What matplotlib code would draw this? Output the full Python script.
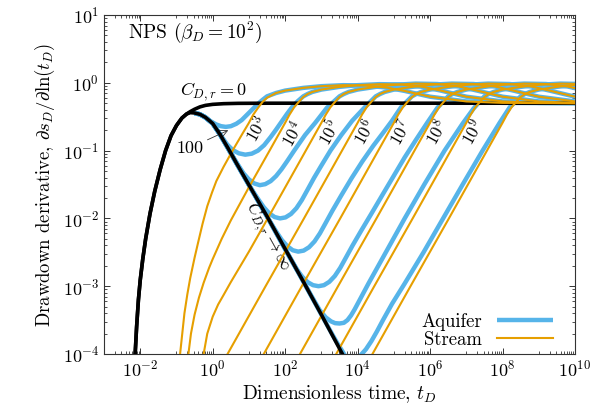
import matplotlib
matplotlib.use("Agg")
import matplotlib.pyplot as plt
import matplotlib.ticker as mticker
import numpy as np

plt.rcParams["font.family"] = "cmr10"
plt.rcParams["mathtext.fontset"] = "cm"
plt.rcParams["axes.formatter.use_mathtext"] = True

AQUIFER_COLOR = "#56b4e9"
STREAM_COLOR = "#e69f00"

# every curve is a list of (log10 t_D, log10 derivative) pairs

# C_D,r = 0
no_storage = [(-2.14, -4.0), (-2.10, -3.6), (-2.05, -3.2), (-2.0, -2.91), (-1.93, -2.6),
              (-1.85, -2.3), (-1.73, -1.93), (-1.6, -1.6), (-1.45, -1.28), (-1.3, -1.0),
              (-1.15, -0.78), (-1.0, -0.63), (-0.85, -0.52), (-0.72, -0.46), (-0.62, -0.425),
              (-0.5, -0.39), (-0.35, -0.355), (-0.2, -0.333), (0.0, -0.318), (0.3, -0.308),
              (0.7, -0.303), (1.5, -0.301), (10.0, -0.301)]

# C_D,r -> infinity
infinite_storage = [(-2.14, -4.0), (-2.10, -3.6), (-2.05, -3.2), (-2.0, -2.91), (-1.93, -2.6),
                    (-1.85, -2.3), (-1.73, -1.93), (-1.6, -1.6), (-1.45, -1.28), (-1.3, -1.0),
                    (-1.15, -0.78), (-1.0, -0.63), (-0.85, -0.52), (-0.72, -0.46), (-0.62, -0.44),
                    (-0.5, -0.445), (-0.35, -0.465), (-0.2, -0.51), (0.0, -0.6), (0.2, -0.76),
                    (0.43, -0.97), (0.65, -1.18), (0.94, -1.45), (1.5, -1.97), (2.0, -2.45),
                    (2.5, -2.93), (3.0, -3.42), (3.5, -3.92), (3.6, -4.02)]

storage_labels = ["100", "$10^3$", "$10^4$", "$10^5$", "$10^6$", "$10^7$", "$10^8$", "$10^9$"]

stream_2 = [(-0.90, -4.0), (-0.84, -3.7), (-0.78, -3.4), (-0.7, -3.12), (-0.62, -2.88),
            (-0.5, -2.58), (-0.4, -2.35), (-0.28, -2.08), (-0.15, -1.82), (-0.02, -1.62),
            (0.1, -1.45), (0.3, -1.24), (0.57, -0.98), (0.8, -0.77), (1.0, -0.59),
            (1.12, -0.47), (1.25, -0.37), (1.38, -0.28), (1.5, -0.22), (1.75, -0.15),
            (2.0, -0.115), (2.5, -0.075), (3.0, -0.05), (3.6, -0.035), (4.2, -0.04),
            (4.8, -0.07), (5.3, -0.12), (6.0, -0.205), (7.0, -0.275), (8.0, -0.296),
            (10.0, -0.301)]
stream_3 = [(-0.67, -4.0), (-0.6, -3.7), (-0.5, -3.42), (-0.38, -3.17), (-0.25, -2.95),
            (-0.1, -2.73), (0.0, -2.6), (0.25, -2.3), (0.5, -2.03), (1.0, -1.54),
            (1.57, -1.0), (2.0, -0.59), (2.12, -0.47), (2.25, -0.36), (2.38, -0.28),
            (2.5, -0.21), (2.62, -0.165), (2.75, -0.135), (3.0, -0.1), (3.5, -0.06),
            (4.0, -0.035), (4.6, -0.02), (5.2, -0.025), (5.8, -0.06), (6.3, -0.115),
            (7.0, -0.205), (8.0, -0.275), (9.0, -0.296), (10.0, -0.30)]
stream_4 = [(-0.25, -4.0), (-0.15, -3.7), (0.0, -3.45), (0.15, -3.27), (0.3, -3.13),
            (0.5, -2.94), (0.7, -2.76), (1.0, -2.49), (1.52, -2.0), (2.57, -1.0),
            (3.0, -0.59), (3.12, -0.47), (3.25, -0.36), (3.38, -0.28), (3.5, -0.21),
            (3.62, -0.165), (3.75, -0.135), (4.0, -0.1), (4.5, -0.06), (5.0, -0.03),
            (5.6, -0.012), (6.2, -0.018), (6.8, -0.055), (7.3, -0.115), (8.0, -0.205),
            (9.0, -0.275), (10.0, -0.296)]
stream_5 = [(0.41, -4.0), (1.46, -3.0), (2.52, -2.0), (3.57, -1.0), (4.0, -0.59),
            (4.12, -0.47), (4.25, -0.36), (4.38, -0.28), (4.5, -0.21), (4.62, -0.165),
            (4.75, -0.135), (5.0, -0.1), (5.5, -0.06), (6.0, -0.03), (6.6, -0.012),
            (7.2, -0.018), (7.8, -0.055), (8.3, -0.115), (9.0, -0.205), (10.0, -0.275)]
stream_6 = [(1.41, -4.0), (2.46, -3.0), (3.52, -2.0), (4.57, -1.0), (5.0, -0.59),
            (5.12, -0.47), (5.25, -0.36), (5.38, -0.28), (5.5, -0.21), (5.62, -0.165),
            (5.75, -0.135), (6.0, -0.1), (6.5, -0.06), (7.0, -0.03), (7.6, -0.012),
            (8.2, -0.018), (8.8, -0.055), (9.3, -0.115), (10.0, -0.205)]
stream_7 = [(2.41, -4.0), (3.46, -3.0), (4.52, -2.0), (5.57, -1.0), (6.0, -0.59),
            (6.12, -0.47), (6.25, -0.36), (6.38, -0.28), (6.5, -0.21), (6.62, -0.165),
            (6.75, -0.135), (7.0, -0.1), (7.5, -0.06), (8.0, -0.03), (8.6, -0.012),
            (9.2, -0.018), (9.8, -0.055), (10.3, -0.115)]
stream_8 = [(3.41, -4.0), (4.46, -3.0), (5.52, -2.0), (6.57, -1.0), (7.0, -0.59),
            (7.12, -0.47), (7.25, -0.36), (7.38, -0.28), (7.5, -0.21), (7.62, -0.165),
            (7.75, -0.135), (8.0, -0.1), (8.5, -0.06), (9.0, -0.03), (9.6, -0.012),
            (10.2, -0.018)]
stream_9 = [(4.41, -4.0), (5.46, -3.0), (6.52, -2.0), (7.57, -1.0), (8.0, -0.59),
            (8.12, -0.47), (8.25, -0.36), (8.38, -0.28), (8.5, -0.21), (8.62, -0.165),
            (8.75, -0.135), (9.0, -0.1), (9.5, -0.06), (10.0, -0.03)]

# aquifer curves up to where they join the stream curve of the same C_D,r
aquifer_2 = [(-0.5, -0.445), (-0.35, -0.47), (-0.2, -0.515), (-0.05, -0.57), (0.1, -0.615),
             (0.23, -0.64), (0.36, -0.65), (0.5, -0.64), (0.65, -0.605), (0.8, -0.55),
             (0.95, -0.47), (1.1, -0.39), (1.25, -0.31), (1.38, -0.25), (1.5, -0.2)]
aquifer_3 = [(-0.5, -0.445), (-0.35, -0.465), (-0.2, -0.51), (0.0, -0.6), (0.2, -0.76),
             (0.4, -0.91), (0.55, -0.99), (0.72, -1.04), (0.9, -1.06), (1.08, -1.045),
             (1.25, -1.0), (1.42, -0.92), (1.6, -0.8), (1.75, -0.69), (1.88, -0.59),
             (2.05, -0.46), (2.19, -0.36), (2.35, -0.27), (2.5, -0.2)]
aquifer_4 = [(-0.5, -0.445), (-0.35, -0.465), (-0.2, -0.51), (0.0, -0.6), (0.2, -0.76),
             (0.5, -1.04), (0.7, -1.21), (0.85, -1.335), (1.0, -1.425), (1.15, -1.485),
             (1.3, -1.51), (1.45, -1.495), (1.6, -1.45), (1.75, -1.375), (1.9, -1.275),
             (2.05, -1.16), (2.25, -1.0), (2.55, -0.77), (2.83, -0.59), (3.15, -0.37),
             (3.5, -0.2)]
aquifer_5 = [(-0.5, -0.445), (-0.35, -0.465), (-0.2, -0.51), (0.0, -0.6), (0.2, -0.76),
             (0.43, -0.97), (0.65, -1.18), (0.86, -1.37), (1.06, -1.56), (1.26, -1.72),
             (1.41, -1.835), (1.56, -1.925), (1.71, -1.98), (1.86, -2.0), (2.01, -1.985),
             (2.16, -1.935), (2.31, -1.85), (2.46, -1.73), (2.61, -1.585), (2.8, -1.4),
             (3.0, -1.22), (3.25, -1.0), (3.55, -0.77), (3.85, -0.56), (4.2, -0.36),
             (4.5, -0.2)]
aquifer_6 = [(-0.5, -0.445), (-0.35, -0.465), (-0.2, -0.51), (0.0, -0.6), (0.2, -0.76),
             (0.43, -0.97), (0.65, -1.18), (0.94, -1.45), (1.25, -1.74), (1.56, -2.03),
             (1.76, -2.2), (1.91, -2.32), (2.06, -2.41), (2.21, -2.47), (2.36, -2.49),
             (2.51, -2.475), (2.66, -2.425), (2.81, -2.34), (2.96, -2.22), (3.11, -2.075),
             (3.3, -1.89), (3.55, -1.66), (3.83, -1.41), (4.13, -1.16), (4.43, -0.93),
             (4.7, -0.74), (4.95, -0.56), (5.2, -0.36), (5.5, -0.2)]
aquifer_7 = [(-0.5, -0.445), (-0.35, -0.465), (-0.2, -0.51), (0.0, -0.6), (0.2, -0.76),
             (0.43, -0.97), (0.65, -1.18), (0.94, -1.45), (1.5, -1.97), (1.85, -2.31),
             (2.12, -2.57), (2.32, -2.75), (2.47, -2.86), (2.62, -2.94), (2.77, -2.985),
             (2.92, -3.0), (3.07, -2.985), (3.22, -2.935), (3.37, -2.85), (3.52, -2.73),
             (3.67, -2.585), (3.86, -2.4), (4.1, -2.18), (4.38, -1.93), (4.7, -1.64),
             (5.0, -1.37), (5.3, -1.1), (5.6, -0.85), (5.92, -0.59), (6.2, -0.37),
             (6.5, -0.2)]
aquifer_8 = [(-0.5, -0.445), (-0.35, -0.465), (-0.2, -0.51), (0.0, -0.6), (0.2, -0.76),
             (0.43, -0.97), (0.65, -1.18), (0.94, -1.45), (1.5, -1.97), (2.0, -2.45),
             (2.4, -2.83), (2.7, -3.12), (2.95, -3.35), (3.12, -3.46), (3.27, -3.52),
             (3.38, -3.545), (3.5, -3.55), (3.62, -3.54), (3.72, -3.5), (3.82, -3.43),
             (3.92, -3.34), (4.02, -3.24), (4.14, -3.12), (4.3, -2.96), (4.8, -2.48),
             (5.3, -2.0), (5.84, -1.5), (6.4, -1.0), (6.9, -0.6), (7.2, -0.38), (7.5, -0.2)]
aquifer_9 = [(-0.5, -0.445), (-0.35, -0.465), (-0.2, -0.51), (0.0, -0.6), (0.2, -0.76),
             (0.43, -0.97), (0.65, -1.18), (0.94, -1.45), (1.5, -1.97), (2.0, -2.45),
             (2.5, -2.93), (3.0, -3.42), (3.3, -3.71), (3.45, -3.85), (3.58, -3.96),
             (3.68, -4.05), (3.78, -4.1), (3.93, -4.08), (4.08, -4.02), (4.23, -3.93),
             (4.38, -3.81), (4.53, -3.67), (4.7, -3.5), (4.95, -3.26), (5.3, -2.96),
             (5.82, -2.5), (6.36, -2.0), (6.9, -1.5), (7.45, -1.0), (7.92, -0.59),
             (8.2, -0.36), (8.5, -0.2)]

streams = [stream_2, stream_3, stream_4, stream_5, stream_6, stream_7, stream_8, stream_9]
aquifers = [aquifer_2, aquifer_3, aquifer_4, aquifer_5, aquifer_6, aquifer_7, aquifer_8, aquifer_9]

# where the rotated C_D,r labels sit (log10 t_D, log10 derivative)
label_t = [1.22, 2.2, 3.22, 4.2, 5.18, 6.18, 7.18]
label_y = [-0.68, -0.75, -0.73, -0.73, -0.73, -0.73, -0.73]


def to_xy(points):
    arr = np.array(points)
    return 10.0 ** arr[:, 0], 10.0 ** arr[:, 1]


fig = plt.figure(figsize=(5.91, 4.19), dpi=100)
ax = fig.add_axes([104 / 591, 1 - 354 / 419, 471 / 591, 339 / 419])
ax.set_xscale("log")
ax.set_yscale("log")

for i, (aq, st) in enumerate(zip(aquifers, streams)):
    # after joining, the aquifer curve runs along the stream curve
    tail = [p for p in st if p[0] > aq[-1][0]]
    x, y = to_xy(aq + tail)
    ax.plot(x, y, color=AQUIFER_COLOR, lw=3.2, solid_capstyle="butt", zorder=2,
            label="Aquifer" if i == 0 else None)

x, y = to_xy(no_storage)
ax.plot(x, y, color="black", lw=2.6, zorder=3)

for i, st in enumerate(streams):
    x, y = to_xy(st)
    ax.plot(x, y, color=STREAM_COLOR, lw=1.5, zorder=4,
            label="Stream" if i == 0 else None)

x, y = to_xy(infinite_storage)
ax.plot(x, y, color="black", lw=2.6, zorder=5)

ax.set_xlim(1e-3, 1e10)
ax.set_ylim(1e-4, 1e1)

# annotations
ax.text(10 ** 0.01, 10 ** -0.136, r"$C_{D,r} = 0$", fontsize=13, ha="center", va="center")
ax.annotate("100", xy=(10 ** 0.43, 10 ** -0.70), xytext=(10 ** -0.63, 10 ** -0.96),
            fontsize=13, ha="center", va="center",
            arrowprops=dict(arrowstyle="->", lw=0.6, color="#333333", shrinkA=1, shrinkB=0))
for lab, lt, ly in zip(storage_labels[1:], label_t, label_y):
    ax.text(10 ** lt, 10 ** ly, lab, fontsize=12.5, rotation=61,
            ha="center", va="center", rotation_mode="anchor")
ax.text(10 ** 1.5, 10 ** -2.28, r"$C_{D,r} \rightarrow \infty$", fontsize=12.5,
        rotation=-61, ha="center", va="center", rotation_mode="anchor")
ax.text(0.051, 0.948, r"NPS ($\beta_D = 10^2$)", transform=ax.transAxes,
        fontsize=14, ha="left", va="center")

# axes and ticks
ax.xaxis.set_major_locator(mticker.FixedLocator([10.0 ** e for e in range(-2, 11, 2)]))
ax.xaxis.set_minor_locator(mticker.FixedLocator(
    [m * 10.0 ** e for e in range(-3, 10, 2) for m in range(1, 10)]))
ax.xaxis.set_major_formatter(mticker.LogFormatterMathtext())
ax.xaxis.set_minor_formatter(mticker.NullFormatter())
ax.yaxis.set_major_locator(mticker.LogLocator(base=10, numticks=20))
ax.yaxis.set_minor_locator(mticker.LogLocator(base=10, subs=np.arange(2, 10), numticks=20))
ax.yaxis.set_minor_formatter(mticker.NullFormatter())
ax.tick_params(which="both", direction="in", top=True, right=True, labelsize=13,
               color="#333333")
ax.tick_params(which="major", length=4.5, width=0.7)
ax.tick_params(which="minor", length=2.3, width=0.6)
for sp in ax.spines.values():
    sp.set_linewidth(0.8)
    sp.set_color("#333333")

ax.set_xlabel(r"Dimensionless time, $t_D$", fontsize=14, labelpad=3)
ax.set_ylabel(r"Drawdown derivative, $\partial s_D/\partial\ln(t_D)$", fontsize=13.5,
              labelpad=4)

ax.legend(loc="lower right", markerfirst=False, frameon=False, fontsize=13.5,
          handlelength=3.0, handletextpad=0.8, labelspacing=0.02,
          bbox_to_anchor=(0.99, -0.035))

fig.savefig("out.png", dpi=100)
